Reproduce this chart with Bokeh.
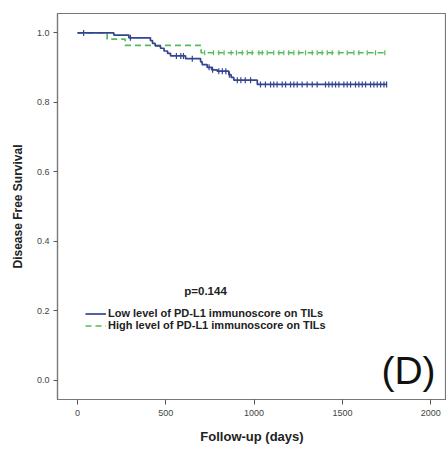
import numpy as np
from bokeh.plotting import figure
from bokeh.models import Range1d, FixedTicker, Label, Legend, LegendItem, NumeralTickFormatter
from bokeh.embed import file_html
from bokeh.resources import INLINE

# ---- data ----
low_times = [0, 206, 291, 413, 425, 440, 470, 490, 510, 527, 612, 697, 706, 734, 760, 791, 857, 870, 885, 1018]
low_surv = [1.0, 0.994, 0.986, 0.978, 0.970, 0.963, 0.956, 0.948, 0.941, 0.934, 0.926, 0.917, 0.909,
            0.901, 0.894, 0.890, 0.880, 0.872, 0.864, 0.852]
low_end = 1750
low_censor = [35, 300, 560, 585, 600, 650, 745, 765, 800, 820, 840, 860, 905, 925, 950, 980,
              1036, 1064, 1093, 1111, 1130, 1159, 1178, 1206, 1225, 1244, 1272, 1300, 1329, 1357,
              1404, 1423, 1442, 1461, 1480, 1508, 1527, 1546, 1574, 1593, 1612, 1631, 1659, 1678,
              1697, 1716, 1735, 1750]

high_times = [0, 168, 270, 700]
high_surv = [1.0, 0.982, 0.964, 0.943]
high_end = 1753
high_censor = [720, 770, 800, 830, 870, 900, 933, 961, 989, 1027, 1046, 1074, 1111, 1140, 1168,
               1196, 1225, 1253, 1291, 1329, 1357, 1385, 1414, 1442, 1480, 1527, 1565, 1593,
               1640, 1687, 1740]

x_ticks = [0, 500, 1000, 1500, 2000]
y_ticks = [0.0, 0.2, 0.4, 0.6, 0.8, 1.0]
legend_labels = ["Low level of PD-L1 immunoscore on TILs", "High level of PD-L1 immunoscore on TILs"]
p_text = "p=0.144"
panel_text = "(D)"

BLUE = "#34458f"
GREEN = "#55bb58"
FONT = "Liberation Sans"

p = figure(width=446, height=449, output_backend="svg", toolbar_location=None,
           x_range=Range1d(-113, 2089), y_range=Range1d(-0.055, 1.056),
           min_border_left=57, min_border_top=13, min_border_right=0, min_border_bottom=50)
p.xgrid.visible = False
p.ygrid.visible = False
p.outline_line_color = "#777777"
p.outline_line_width = 1.2
p.background_fill_color = "white"
p.border_fill_color = "white"


def step_xy(times, surv, end):
    xs = list(times) + [end]
    ys = list(surv) + [surv[-1]]
    return xs, ys


def surv_at(times, surv, t):
    idx = np.searchsorted(np.array(times), np.array(t), side="right") - 1
    return np.array(surv)[idx]


lx, ly = step_xy(low_times, low_surv, low_end)
hx, hy = step_xy(high_times, high_surv, high_end)

r_high = p.step(hx, hy, mode="after", line_color=GREEN, line_width=1.7, line_dash="6 4")
r_low = p.step(lx, ly, mode="after", line_color=BLUE, line_width=1.7)

p.scatter(high_censor, surv_at(high_times, high_surv, high_censor), marker="dash", angle=np.pi / 2,
          size=5, line_color=GREEN, line_width=1.2)
p.scatter(low_censor, surv_at(low_times, low_surv, low_censor), marker="dash", angle=np.pi / 2,
          size=6, line_color=BLUE, line_width=1.2)

# axes
for ax in (p.xaxis, p.yaxis):
    ax.axis_line_color = "#777777"
    ax.axis_line_width = 1.2
    ax.major_tick_line_color = "#555555"
    ax.major_tick_in = 0
    ax.major_tick_out = 5
    ax.minor_tick_line_color = None
    ax.major_label_text_font = FONT
    ax.major_label_text_font_size = "9px"
    ax.major_label_text_color = "#444444"
    ax.axis_label_text_font = FONT
    ax.axis_label_text_font_style = "bold"
    ax.axis_label_text_color = "#222222"

p.xaxis.ticker = FixedTicker(ticks=x_ticks)
p.yaxis.ticker = FixedTicker(ticks=y_ticks)
p.yaxis.formatter = NumeralTickFormatter(format="0.0")
p.xaxis.axis_label = "Follow-up (days)"
p.yaxis.axis_label = "Disease Free Survival"
p.xaxis.axis_label_text_font_size = "13px"
p.yaxis.axis_label_text_font_size = "12px"
p.yaxis.major_tick_out = 4
p.yaxis.major_label_standoff = 4
p.yaxis.axis_label_standoff = 9
p.xaxis.major_label_standoff = 5
p.xaxis.axis_label_standoff = 10

# p-value and panel letter
p.add_layout(Label(x=725, y=0.256, text=p_text, text_align="center", text_baseline="middle",
                   text_font=FONT, text_font_style="bold", text_font_size="11.5px", text_color="#222222"))
p.add_layout(Label(x=1874, y=0.028, text=panel_text, text_align="center", text_baseline="middle",
                   text_font=FONT, text_font_size="39px", text_color="#111111"))

legend = Legend(items=[LegendItem(label=legend_labels[0], renderers=[r_low]),
                       LegendItem(label=legend_labels[1], renderers=[r_high])],
                location=(28, 68), orientation="vertical")
legend.label_text_font = FONT
legend.label_text_font_style = "bold"
legend.label_text_font_size = "11px"
legend.label_text_color = "#222222"
legend.label_height = 11
legend.glyph_height = 11
legend.glyph_width = 21
legend.label_standoff = 2
legend.spacing = 0
legend.padding = 0
legend.margin = 0
legend.border_line_color = None
legend.background_fill_alpha = 0
p.add_layout(legend, "center")

open("out.html", "w").write(file_html(p, INLINE))
